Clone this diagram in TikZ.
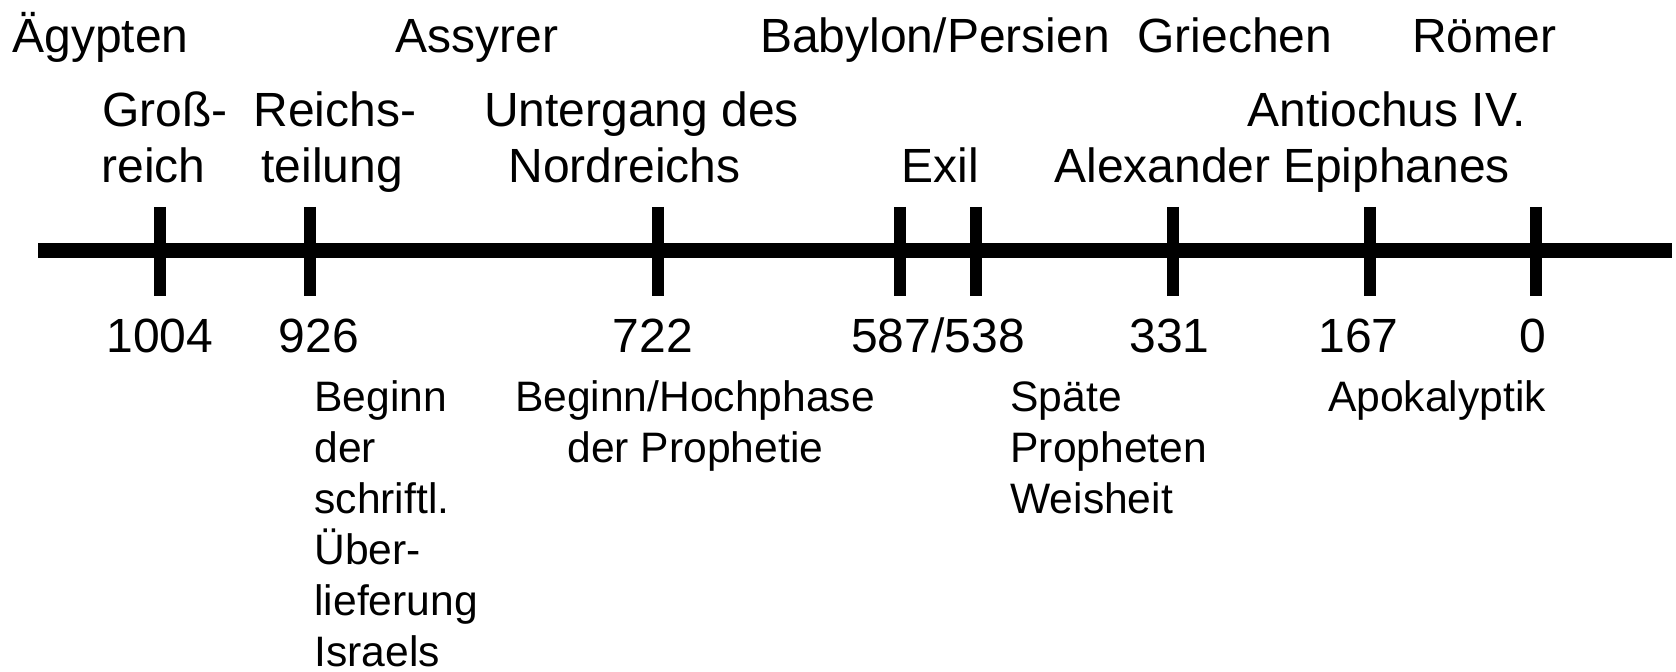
\documentclass[tikz,border=0pt]{standalone}
\usepackage{fontspec}
\setmainfont{Liberation Sans}
\begin{document}
\begin{tikzpicture}[x=0.5pt,y=-0.5pt,
  big/.style={inner sep=0pt,font=\fontsize{24}{28}\selectfont},
  small/.style={inner sep=0pt,font=\fontsize{21.3}{25.6}\selectfont},
  axisline/.style={line width=7.5pt},
  tickline/.style={line width=6pt}]
\useasboundingbox (0,0) rectangle (1676,672);
% axis
\coordinate (axisL) at (38,250.5);
\coordinate (axisR) at (1672,250.5);
\draw[axisline] (axisL) -- (axisR);
% ticks
\foreach \n/\x in {t1004/159.5,t926/310,t722/658,t587/900,t538/976,t331/1173,t167/1369.5,t0/1536}{
  \coordinate (\n-top) at (\x,207);
  \coordinate (\n-bot) at (\x,296);
  \draw[tickline] (\n-top) -- (\n-bot);
}
% empires (top row)
\node[big,anchor=base west] (aeg) at (12,53) {Ägypten};
\node[big,anchor=base] (ass) at (477,53) {Assyrer};
\node[big,anchor=base] (bab) at (935,53) {Babylon/Persien};
\node[big,anchor=base] (gri) at (1235,53) {Griechen};
\node[big,anchor=base] (roe) at (1484,53) {Römer};
% events
\node[big,anchor=base west] (gross1) at (102,126.7) {Groß-};
\node[big,anchor=base west] (gross2) at (101,182.7) {reich};
\node[big,anchor=base west] (reichs1) at (253,126.7) {Reichs-};
\node[big,anchor=base west] (reichs2) at (261,182.7) {teilung};
\node[big,anchor=base] (unter1) at (641.5,126.7) {Untergang des};
\node[big,anchor=base] (unter2) at (624.5,182.7) {Nordreichs};
\node[big,anchor=base] (exil) at (940,182.7) {Exil};
\node[big,anchor=base] (alex) at (1162.5,182.7) {Alexander};
\node[big,anchor=base] (anti1) at (1387,126.7) {Antiochus IV.};
\node[big,anchor=base] (anti2) at (1396.5,182.7) {Epiphanes};
% years
\node[big,anchor=base] (y1004) at (160,352.3) {1004};
\node[big,anchor=base] (y926) at (319,352.3) {926};
\node[big,anchor=base] (y722) at (653,352.3) {722};
\node[big,anchor=base] (y587) at (938,352.3) {587/538};
\node[big,anchor=base] (y331) at (1169.5,352.3) {331};
\node[big,anchor=base] (y167) at (1358.5,352.3) {167};
\node[big,anchor=base] (y0) at (1532.5,352.3) {0};
% literature
\node[small,anchor=base west] (lit1a) at (314,411.5) {Beginn};
\node[small,anchor=base west] (lit1b) at (314,462.5) {der};
\node[small,anchor=base west] (lit1c) at (314,513.5) {schriftl.};
\node[small,anchor=base west] (lit1d) at (314,564.5) {Über-};
\node[small,anchor=base west] (lit1e) at (314,615.5) {lieferung};
\node[small,anchor=base west] (lit1f) at (314,666.5) {Israels};
\node[small,anchor=base] (lit2a) at (695,411.5) {Beginn/Hochphase};
\node[small,anchor=base] (lit2b) at (695.5,462.5) {der Prophetie};
\node[small,anchor=base west] (lit3a) at (1010,411.5) {Späte};
\node[small,anchor=base west] (lit3b) at (1010,462.5) {Propheten};
\node[small,anchor=base west] (lit3c) at (1010,513.5) {Weisheit};
\node[small,anchor=base] (lit4) at (1437,411.5) {Apokalyptik};
\end{tikzpicture}
\end{document}
